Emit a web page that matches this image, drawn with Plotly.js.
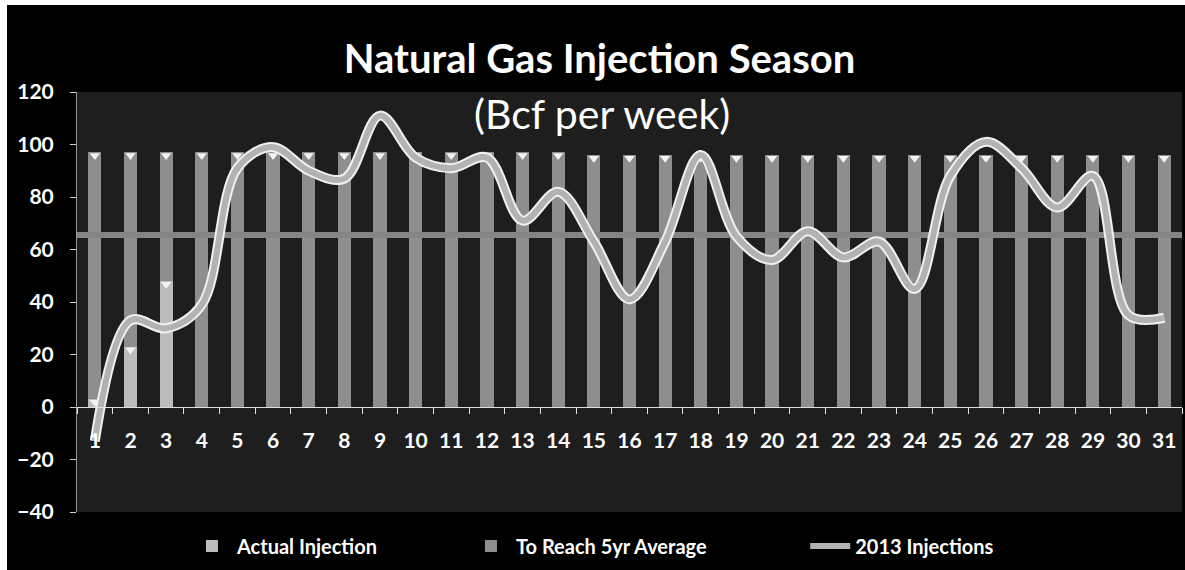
<!DOCTYPE html>
<html>
<head>
<meta charset="utf-8">
<script src="https://cdn.plot.ly/plotly-3.0.1.min.js"></script>
<style>
  html, body { margin: 0; padding: 0; background: #ffffff; }
  #chart { position: absolute; left: 7px; top: 5px; width: 1178px; height: 565px; }
</style>
</head>
<body>
<div id="chart"></div>
<script>
// ---- data ----
const weeks = [1,2,3,4,5,6,7,8,9,10,11,12,13,14,15,16,17,18,19,20,21,22,23,24,25,26,27,28,29,30,31];
const actualInjection = [3,23,48,0,0,0,0,0,0,0,0,0,0,0,0,0,0,0,0,0,0,0,0,0,0,0,0,0,0,0,0];
const fiveYrTotal = [97,97,97,97,97,97,97,97,97,97,97,97,97,97,96,96,96,96,96,96,96,96,96,96,96,96,96,96,96,96,96];
const toReach5yr = fiveYrTotal.map((t, i) => t - actualInjection[i]);
const injections2013 = [-13,33,30,39,91,99,90,87,111,95,91,95,71,82,63,41,63,96,65,56,67,57,63,45,88,101,91,76,88,35,34];
const averageLevel = [65.5];
const tickLabels = weeks.map(String);

const FONT = 'Lato, "Open Sans", sans-serif';

// cap markers (bevel tops) derived from data
const capX = [], capY = [];
weeks.forEach((w, i) => {
  capX.push(w); capY.push(fiveYrTotal[i] - 1.2);
  if (actualInjection[i] > 0) { capX.push(w); capY.push(actualInjection[i] - 1.2); }
});

const traces = [
  {
    type: 'bar', name: 'Actual Injection', x: weeks, y: actualInjection, legend: 'legend',
    marker: { color: '#bcbcbc', line: { width: 0 } }, width: 0.37
  },
  {
    type: 'bar', name: 'To Reach 5yr Average', x: weeks, y: toReach5yr, legend: 'legend2',
    marker: { color: '#8e8e8e', line: { width: 0 } }, width: 0.37
  },
  {
    type: 'scatter', mode: 'markers', x: capX, y: capY, showlegend: false, hoverinfo: 'skip',
    marker: { symbol: 'triangle-down', size: 9, color: '#f2f2f2' }
  },
  {
    type: 'scatter', mode: 'lines', x: [0.5, 31.5], y: [averageLevel[0], averageLevel[0]],
    showlegend: false, hoverinfo: 'skip',
    line: { color: '#858585', width: 6 }
  },
  {
    type: 'scatter', mode: 'lines', x: weeks, y: injections2013, showlegend: false, hoverinfo: 'skip',
    line: { color: '#f0f0f0', width: 10, shape: 'spline', smoothing: 1 }
  },
  {
    type: 'scatter', mode: 'lines', name: '2013 Injections', x: weeks, y: injections2013, legend: 'legend3',
    line: { color: '#b2b2b2', width: 6, shape: 'spline', smoothing: 1 }
  }
];

const legendFont = { family: FONT, size: 20, color: '#ffffff', weight: 'bold' };
const legendBase = { orientation: 'h', xanchor: 'left', y: -0.081, yanchor: 'middle', font: legendFont, bgcolor: 'rgba(0,0,0,0)', itemwidth: 40 };

const layout = {
  width: 1178, height: 565,
  paper_bgcolor: '#000000',
  plot_bgcolor: '#1e1e1e',
  margin: { l: 70, r: 3, t: 87, b: 58 },
  barmode: 'stack',
  showlegend: true,
  font: { family: FONT, color: '#ffffff' },
  title: {
    text: '<b>Natural Gas Injection Season</b>',
    font: { family: FONT, size: 40, color: '#ffffff' },
    x: 0.503, xanchor: 'center', y: 0.905, yanchor: 'middle', xref: 'container', yref: 'container'
  },
  annotations: [{
    text: '(Bcf per week)', xref: 'paper', yref: 'paper', x: 0.4747, y: 0.948, yanchor: 'middle',
    xanchor: 'center', showarrow: false, font: { family: FONT, size: 41, color: '#ffffff' }
  }],
  xaxis: {
    type: 'linear', range: [0.5, 31.5],
    tickvals: weeks, ticktext: tickLabels,
    anchor: 'free', position: 0.25,
    showgrid: false, zeroline: false,
    showline: true, linecolor: '#e0e0e0', linewidth: 1,
    ticks: '', ticklabelstandoff: 15,
    tickfont: { family: FONT, size: 21, color: '#ffffff', weight: 'bold' },
    minor: { tickmode: 'linear', tick0: 0.5, dtick: 1, ticks: 'outside', ticklen: 6, tickcolor: '#e0e0e0', showgrid: false },
    fixedrange: true
  },
  yaxis: {
    range: [-40, 120], dtick: 20, tick0: 0,
    showgrid: false, zeroline: false,
    showline: true, linecolor: '#9a9a9a', linewidth: 1,
    ticks: 'outside', ticklen: 6, tickcolor: '#cfcfcf', ticklabelstandoff: 12,
    tickfont: { family: FONT, size: 21, color: '#ffffff', weight: 'bold' },
    fixedrange: true
  },
  legend: Object.assign({}, legendBase, { x: 0.0995 }),
  legend2: Object.assign({}, legendBase, { x: 0.352 }),
  legend3: Object.assign({}, legendBase, { x: 0.659 })
};

Plotly.newPlot('chart', traces, layout, { displayModeBar: false, staticPlot: true });
</script>
</body>
</html>
